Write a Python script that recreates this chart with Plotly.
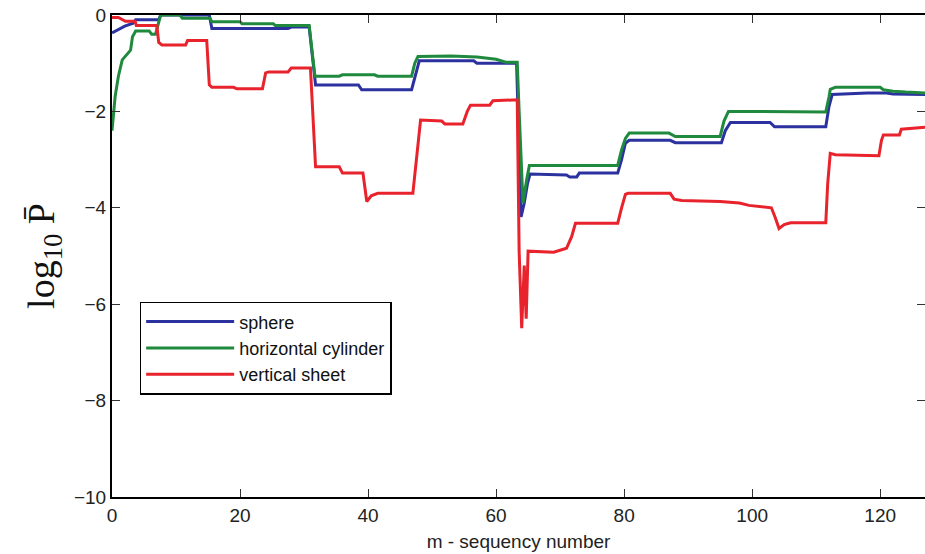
import plotly.graph_objects as go

# ---- data ----
sphere_m = [0, 1, 2, 3.3, 3.7, 7.3, 7.6, 15.2, 15.6, 27.5, 28, 30.8, 31.4, 31.8, 38.5, 39, 46.8,
            47.5, 48, 56.5, 57, 63.2, 63.5, 63.9, 64.4, 64.9, 65.3, 71, 71.5, 72.6, 73, 79, 79.6,
            80.2, 80.8, 87.2, 88, 95.2, 95.8, 96.6, 102.8, 103.5, 111.5, 112, 112.5, 118, 121, 122, 127]
sphere_logp = [-0.37, -0.3, -0.23, -0.17, -0.1, -0.1, 0, 0, -0.28, -0.28, -0.25, -0.25, -1.0, -1.45,
               -1.45, -1.55, -1.55, -1.2, -0.95, -0.95, -1.0, -1.0, -2.5, -4.19, -3.9, -3.5, -3.3,
               -3.32, -3.36, -3.36, -3.28, -3.28, -3.0, -2.66, -2.6, -2.6, -2.65, -2.65, -2.4,
               -2.23, -2.23, -2.32, -2.32, -1.9, -1.65, -1.62, -1.62, -1.64, -1.65]

cylinder_m = [0, 0.3, 0.5, 1.0, 1.6, 2.9, 3.2, 3.7, 5.8, 6.2, 6.8, 7.6, 10.6, 11, 15.3, 15.6, 20,
              20.3, 25.2, 25.5, 30.8, 31.3, 31.7, 35.5, 36, 41, 41.5, 46.8, 47.3, 47.8, 53, 57, 60,
              61.5, 63.3, 63.6, 64.2, 64.8, 65.2, 79, 79.6, 80.2, 80.8, 87, 88, 95, 95.6, 96.3,
              111.5, 112, 112.2, 113, 120, 120.5, 122, 124, 127]
cylinder_logp = [-2.4, -1.9, -1.68, -1.27, -0.93, -0.73, -0.45, -0.33, -0.33, -0.4, -0.4, 0, 0,
                 -0.07, -0.07, -0.14, -0.14, -0.18, -0.18, -0.22, -0.22, -0.8, -1.27, -1.27, -1.24,
                 -1.24, -1.27, -1.27, -1.0, -0.86, -0.85, -0.87, -0.92, -0.98, -0.98, -2.0, -3.9,
                 -3.4, -3.12, -3.12, -2.8, -2.56, -2.45, -2.45, -2.52, -2.52, -2.2, -2.0, -2.01,
                 -1.7, -1.54, -1.5, -1.5, -1.55, -1.58, -1.6, -1.62]

sheet_m = [0, 1, 2.1, 3.6, 3.8, 7.0, 7.3, 7.8, 11.5, 11.8, 14.8, 15.2, 15.6, 19, 19.5, 23.5, 24,
           24.5, 27.5, 28, 31, 31.5, 31.8, 35.5, 36, 39.2, 39.8, 40.5, 41.5, 47, 47.5, 48.2, 51.5,
           52, 54.8, 55.5, 56, 59, 59.5, 63.3, 63.6, 64.0, 64.4, 64.7, 65.0, 69, 71, 71.8, 72.4,
           79, 79.6, 80.2, 80.6, 87.2, 87.8, 89, 95, 98, 99.5, 103, 103.6, 104.2, 105, 106,
           111.5, 111.8, 112.2, 113, 119.8, 120.2, 120.5, 123, 123.3, 127]
sheet_logp = [-0.05, -0.05, -0.13, -0.13, -0.22, -0.22, -0.57, -0.62, -0.62, -0.53, -0.53, -1.45,
              -1.5, -1.5, -1.53, -1.53, -1.2, -1.18, -1.18, -1.1, -1.1, -2.5, -3.15, -3.15, -3.28,
              -3.28, -3.87, -3.75, -3.7, -3.7, -3.0, -2.18, -2.2, -2.26, -2.26, -2.0, -1.87, -1.87,
              -1.78, -1.76, -4.9, -6.5, -5.2, -6.3, -4.9, -4.92, -4.84, -4.6, -4.32, -4.32, -4.0,
              -3.72, -3.7, -3.7, -3.82, -3.85, -3.87, -3.9, -3.95, -4.0, -4.2, -4.43, -4.35,
              -4.31, -4.31, -3.5, -2.87, -2.9, -2.92, -2.6, -2.49, -2.49, -2.37, -2.33]

x_ticks = [0, 20, 40, 60, 80, 100, 120]
y_ticks = [0, -2, -4, -6, -8, -10]

# ---- figure ----
fig = go.Figure()
series = [
    ("sphere", sphere_m, sphere_logp, "#2b32a0"),
    ("horizontal cylinder", cylinder_m, cylinder_logp, "#1f8a3e"),
    ("vertical sheet", sheet_m, sheet_logp, "#e8232c"),
]
for name, xs, ys, col in series:
    fig.add_trace(go.Scatter(x=xs, y=ys, mode="lines", name=name,
                             line=dict(color=col, width=3)))

# invisible helper trace for right-side inner ticks
fig.add_trace(go.Scatter(x=[0], y=[0], yaxis="y2", mode="lines", showlegend=False,
                         hoverinfo="skip", line=dict(width=0)))

tick_font = dict(family="Liberation Sans, Arial, sans-serif", size=19, color="#222")

fig.update_layout(
    width=925, height=554,
    margin=dict(l=112, r=0, t=15, b=57),
    paper_bgcolor="white", plot_bgcolor="white",
    showlegend=True,
    legend=dict(x=0.034, y=0.405, xanchor="left", yanchor="top",
                bgcolor="white", bordercolor="black", borderwidth=1.5,
                font=dict(family="Liberation Sans, Arial, sans-serif", size=18, color="#111"),
                itemwidth=88, tracegroupgap=0),
    xaxis=dict(range=[0, 127], tickvals=x_ticks, ticks="inside", ticklen=8,
               tickwidth=1, tickcolor="#333", showline=True, linecolor="black",
               linewidth=2, mirror="ticks", showgrid=False, zeroline=False,
               tickfont=tick_font, automargin=False, ticklabeloverflow="allow",
               title=dict(text="m - sequency number", font=tick_font, standoff=10)),
    yaxis=dict(range=[-10, 0], tickvals=y_ticks, ticks="inside", ticklen=8,
               tickwidth=1, tickcolor="#333", showline=True, linecolor="black",
               linewidth=2, mirror=False, showgrid=False, zeroline=False,
               tickfont=tick_font, automargin=False, ticklabeloverflow="allow",
               title=dict(text="log<sub>10</sub> P\u0304",
                          font=dict(family="Liberation Serif, Times New Roman, serif",
                                    size=38, color="#111"),
                          standoff=8)),
    yaxis2=dict(range=[-10, 0], tickvals=y_ticks, overlaying="y", side="right",
                ticks="inside", ticklen=8, tickcolor="#333", showticklabels=False,
                showline=False, showgrid=False, zeroline=False, automargin=False),
)

# remove the default 8px page margin so the figure fills the window exactly
fig.write_html("out.html", config={"displayModeBar": False},
               post_script="document.body.style.margin='0';")
